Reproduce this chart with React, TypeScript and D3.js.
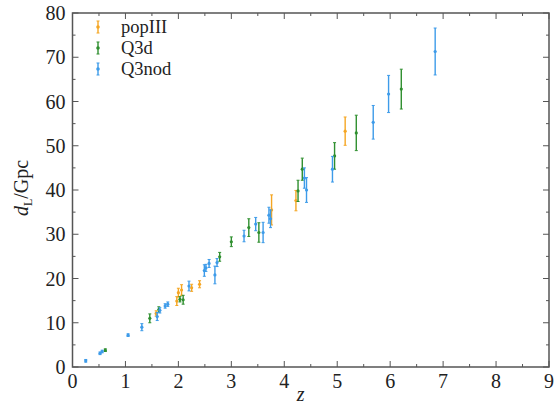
import React from "react";
import * as d3 from "d3";

// popIII (orange)
const popZ = [1.58, 1.97, 2.0, 2.06, 2.25, 2.4, 3.76, 4.22, 5.15];
const popD = [12.1, 14.9, 16.8, 17.4, 17.9, 18.7, 35.5, 37.6, 53.3];
const popErr = [0.6, 1.0, 1.0, 1.2, 0.8, 0.8, 3.4, 2.3, 3.2];

// Q3d (green)
const q3dZ = [0.62, 1.46, 1.63, 2.03, 2.09, 2.78, 3.0, 3.33, 3.52, 4.26, 4.34, 4.95, 5.36, 6.21];
const q3dD = [3.8, 11.0, 13.0, 15.3, 15.2, 24.9, 28.3, 31.5, 30.4, 39.8, 44.7, 47.7, 52.9, 62.8];
const q3dErr = [0.3, 1.0, 0.6, 0.6, 1.0, 1.0, 1.1, 2.0, 2.2, 2.4, 2.5, 3.0, 4.0, 4.5];

// Q3nod (blue)
const nodZ = [0.25, 0.52, 0.56, 1.05, 1.31, 1.6, 1.65, 1.75, 1.8, 2.2, 2.49, 2.52, 2.58, 2.69, 2.73,
  3.24, 3.46, 3.6, 3.71, 3.74, 4.38, 4.42, 4.91, 5.68, 5.97, 6.85];
const nodD = [1.4, 3.1, 3.5, 7.2, 9.0, 11.4, 12.8, 13.8, 14.2, 18.3, 21.8, 22.4, 23.4, 20.8, 23.6,
  29.6, 32.3, 30.4, 34.3, 33.5, 42.7, 40.0, 44.7, 55.3, 61.7, 71.3];
const nodErr = [0.3, 0.3, 0.3, 0.3, 0.8, 0.9, 0.6, 0.5, 0.5, 1.1, 1.3, 0.8, 0.9, 2.0, 0.9,
  1.3, 1.5, 2.3, 1.8, 2.0, 2.3, 2.8, 2.9, 3.8, 4.2, 5.3];

const xTicks = [0, 1, 2, 3, 4, 5, 6, 7, 8, 9];
const yTicks = [0, 10, 20, 30, 40, 50, 60, 70, 80];

const series = [
  { name: "popIII", color: "#f5a623", z: popZ, d: popD, err: popErr },
  { name: "Q3d", color: "#2f8f2f", z: q3dZ, d: q3dD, err: q3dErr },
  { name: "Q3nod", color: "#3d9be9", z: nodZ, d: nodD, err: nodErr },
];

const W = 559, H = 406;
const left = 72.5, right = 549, top = 13, bottom = 367;
const font = "'Liberation Serif', 'Times New Roman', serif";

export default function App() {
  const x = d3.scaleLinear().domain([0, 9]).range([left, right]);
  const y = d3.scaleLinear().domain([0, 80]).range([bottom, top]);
  const frame = "#555";

  const xMinor = d3.range(0, 9.01, 0.5);
  const yMinor = d3.range(0, 80.01, 5);

  return (
    <svg width={W} height={H} style={{ position: "absolute", left: 0, top: 0, background: "#fff" }}
      fontFamily={font}>
      {/* ticks, pointing inwards on all sides */}
      {xMinor.map(v => {
        const len = Number.isInteger(v) ? 6 : 3;
        return (
          <g key={"xt" + v} stroke={frame} strokeWidth={1}>
            <line x1={x(v)} x2={x(v)} y1={bottom} y2={bottom - len} />
            <line x1={x(v)} x2={x(v)} y1={top} y2={top + len} />
          </g>
        );
      })}
      {yMinor.map(v => {
        const len = v % 10 === 0 ? 6 : 3;
        return (
          <g key={"yt" + v} stroke={frame} strokeWidth={1}>
            <line x1={left} x2={left + len} y1={y(v)} y2={y(v)} />
            <line x1={right} x2={right - len} y1={y(v)} y2={y(v)} />
          </g>
        );
      })}
      <rect x={left} y={top} width={right - left} height={bottom - top} fill="none" stroke={frame} strokeWidth={1.5} />

      {xTicks.map(v => (
        <text key={"xl" + v} x={x(v)} y={bottom + 21} textAnchor="middle" fontSize={20} fill="#222">{v}</text>
      ))}
      {yTicks.map(v => (
        <text key={"yl" + v} x={left - 7} y={y(v) + 7} textAnchor="end" fontSize={20} fill="#222">{v}</text>
      ))}

      <text x={(left + right) / 2 - 10} y={401} textAnchor="middle" fontSize={20} fontStyle="italic" fill="#222">z</text>
      <text transform={`translate(28,${y(40) - 2}) rotate(-90)`} textAnchor="middle" fontSize={20} fill="#222">
        <tspan fontStyle="italic">d</tspan>
        <tspan fontSize={12} dy={4}>L</tspan>
        <tspan dy={-4}>/Gpc</tspan>
      </text>

      {series.map(s => (
        <g key={s.name} stroke={s.color} fill={s.color}>
          {s.z.map((zv, i) => {
            const cx = x(zv);
            const y0 = y(s.d[i] - s.err[i]);
            const y1 = y(s.d[i] + s.err[i]);
            return (
              <g key={i}>
                <line x1={cx} x2={cx} y1={y0} y2={y1} strokeWidth={1.4} />
                <line x1={cx - 1.5} x2={cx + 1.5} y1={y0} y2={y0} strokeWidth={1} />
                <line x1={cx - 1.5} x2={cx + 1.5} y1={y1} y2={y1} strokeWidth={1} />
                <circle cx={cx} cy={y(s.d[i])} r={1.6} stroke="none" />
              </g>
            );
          })}
        </g>
      ))}

      {/* legend */}
      {series.map((s, i) => {
        const ly = 27 + i * 21;
        return (
          <g key={"lg" + s.name}>
            <line x1={98} x2={98} y1={ly - 6} y2={ly + 6} stroke={s.color} strokeWidth={1.4} />
            <line x1={96.5} x2={99.5} y1={ly - 6} y2={ly - 6} stroke={s.color} />
            <line x1={96.5} x2={99.5} y1={ly + 6} y2={ly + 6} stroke={s.color} />
            <circle cx={98} cy={ly} r={1.8} fill={s.color} />
            <text x={121} y={ly + 6} fontSize={18.5} fill="#222">{s.name}</text>
          </g>
        );
      })}
    </svg>
  );
}
